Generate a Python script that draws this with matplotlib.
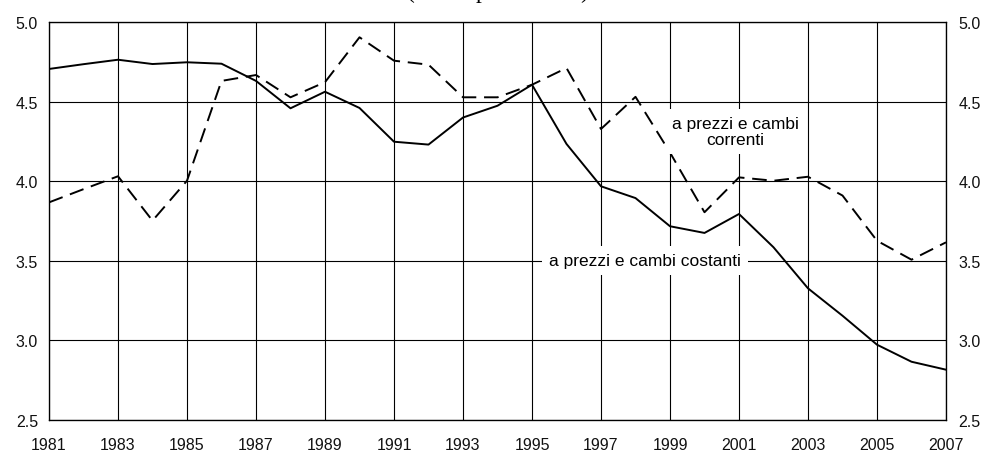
import numpy as np
import matplotlib
matplotlib.use("Agg")
import matplotlib.pyplot as plt

years = list(range(1981, 2008))
# quota a prezzi e cambi costanti
costanti = [4.705, 4.735, 4.763, 4.736, 4.747, 4.738, 4.630, 4.458, 4.562, 4.460,
            4.248, 4.230, 4.400, 4.474, 4.606, 4.234, 3.968, 3.894, 3.717, 3.675,
            3.794, 3.585, 3.327, 3.155, 2.973, 2.866, 2.816]
# quota a prezzi e cambi correnti
correnti = [3.867, 3.950, 4.031, 3.752, 4.003, 4.630, 4.667, 4.527, 4.622, 4.904,
            4.757, 4.732, 4.527, 4.527, 4.606, 4.711, 4.328, 4.530, 4.180, 3.805,
            4.024, 4.003, 4.028, 3.910, 3.626, 3.507, 3.616]

xticks = list(range(1981, 2008, 2))
yticks = [2.5, 3.0, 3.5, 4.0, 4.5, 5.0]

plt.rcParams['font.family'] = ['Liberation Sans', 'DejaVu Sans']

fig = plt.figure(figsize=(9.84, 4.52), dpi=100)
ax = fig.add_axes([49 / 984, 1 - 421 / 452, (946 - 49) / 984, (421 - 23) / 452])

ax.plot(years, costanti, color='black', lw=1.4, zorder=3)
ax.plot(years, correnti, color='black', lw=1.4, dashes=(7.5, 4), zorder=3)

ax.set_xlim(1981, 2007)
ax.set_ylim(2.5, 5.0)
ax.set_xticks(xticks)
ax.set_yticks(yticks)
ax.set_yticklabels([f"{v:.1f}" for v in yticks])
ax.grid(True, color='black', lw=0.8, zorder=1)
ax.tick_params(length=0, labelsize=11.5, colors='#111111')
ax.tick_params(axis='x', pad=12)
ax.tick_params(axis='y', pad=8)
for s in ax.spines.values():
    s.set_linewidth(0.9)

ax2 = ax.twinx()
ax2.set_ylim(ax.get_ylim())
ax2.set_yticks(yticks)
ax2.set_yticklabels([f"{v:.1f}" for v in yticks])
ax2.tick_params(length=0, labelsize=11.5, pad=9, colors='#111111')

box = dict(facecolor='white', edgecolor='none', pad=5)
ax.text(2000.9, 4.31, "a prezzi e cambi\ncorrenti", ha='center', va='center',
        fontsize=12.5, linespacing=1.1, bbox=box, zorder=4)
ax.text(1998.28, 3.5, "a prezzi e cambi costanti", ha='center', va='center',
        fontsize=12.5, bbox=box, zorder=4)

# titolo tagliato in alto come nell'originale
fig.text(0.5056, 1 + 2.5 / 452, "(valori percentuali)", ha='center', va='baseline',
         fontsize=17, family='Liberation Serif')

fig.savefig('out.png', dpi=100)
